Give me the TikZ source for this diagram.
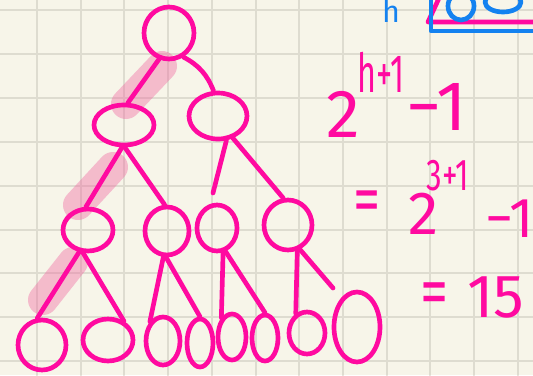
\documentclass[tikz,border=0pt]{standalone}
\usepackage{fontspec}
\setmainfont{Fira Sans}
\usetikzlibrary{shapes.geometric}

\definecolor{paper}{RGB}{247,245,233}
\definecolor{gridgray}{RGB}{222,220,208}
\definecolor{penpink}{RGB}{255,10,160}
\definecolor{penblue}{RGB}{20,130,240}
\definecolor{hilite}{RGB}{240,100,160}

\begin{document}
\begin{tikzpicture}[x=0.3mm, y=-0.3mm, line join=round, line cap=round,
    bub/.style={ellipse, draw=penpink, line width=1.4mm, inner sep=0pt},
    link/.style={draw=penpink, line width=1.4mm},
    glow/.style={draw=hilite, opacity=0.4, line width=9mm},
    hand/.style={text=penpink, inner sep=0pt}]
    \useasboundingbox (0,0) rectangle (533,375);
    \clip (0,0) rectangle (533,375);
    \fill[paper] (0,0) rectangle (533,375);
    \foreach \x in {0,...,11}
        \draw[gridgray, line width=0.6mm] ({37+43.7*\x},0) -- ({37+43.7*\x},375);
    \foreach \y in {0,...,8}
        \draw[gridgray, line width=0.6mm] (0,{10+43.9*\y}) -- (533,{10+43.9*\y});

    % highlighter along the left side
    \coordinate (g1) at (162,66);  \coordinate (g2) at (126,104);
    \coordinate (g3) at (113,167); \coordinate (g4) at (78,205);
    \coordinate (g5) at (73,262);  \coordinate (g6) at (43,300);
    \draw[glow] (g1) -- (g2);
    \draw[glow] (g3) -- (g4);
    \draw[glow] (g5) -- (g6);

    % the tree
    \node[bub, minimum width=15.0mm, minimum height=15.6mm] (root) at (169,33) {};
    \node[bub, minimum width=18.0mm, minimum height=12.0mm] (lft) at (124,125) {};
    \node[bub, minimum width=17.4mm, minimum height=13.8mm] (rgt) at (218,116) {};
    \node[bub, minimum width=15.0mm, minimum height=12.6mm] (na) at (88,230) {};
    \node[bub, minimum width=13.2mm, minimum height=14.4mm] (nb) at (167,231) {};
    \node[bub, minimum width=12.0mm, minimum height=13.8mm] (nc) at (217,228) {};
    \node[bub, minimum width=14.4mm, minimum height=15.0mm] (nd) at (288,225) {};
    \node[bub, minimum width=14.4mm, minimum height=15.0mm] (l1) at (42,345) {};
    \node[bub, minimum width=15.0mm, minimum height=12.6mm] (l2) at (108,340) {};
    \node[bub, minimum width=10.2mm, minimum height=14.4mm] (l3) at (163,341) {};
    \node[bub, minimum width=7.8mm, minimum height=14.4mm] (l4) at (200,343) {};
    \node[bub, minimum width=8.4mm, minimum height=13.8mm] (l5) at (232,337) {};
    \node[bub, minimum width=7.8mm, minimum height=13.8mm] (l6) at (265,338) {};
    \node[bub, minimum width=10.8mm, minimum height=12.6mm] (l7) at (307,333) {};
    \node[bub, minimum width=13.8mm, minimum height=21.0mm] (l8) at (357,327) {};
    \coordinate (cend) at (213,193);
    \coordinate (l8end) at (333,288);

    \draw[link] (root.249) -- (lft.80);
    \draw[link] (root.301) to[bend left=20] (rgt.100);
    \draw[link] (lft.265) -- (na.95);
    \draw[link] (lft.272) -- (nb.95);
    \draw[link] (rgt.289) -- (cend);
    \draw[link] (rgt.304) -- (nd.100);
    \draw[link] (na.248) -- (l1.100);
    \draw[link] (na.258) -- (l2.50);
    \draw[link] (nb.262) -- (l3.124);
    \draw[link] (nb.268) -- (l4.90);
    \draw[link] (nc.284) -- (l5.119);
    \draw[link] (nc.290) -- (l6.90);
    \draw[link] (nd.290) -- (l7.120);
    \draw[link] (nd.296) -- (l8end);

    % formula
    \node[hand, font=\fontsize{58}{60}\selectfont] (two1) at (343,114) {2};
    \node[hand, font=\fontsize{46}{48}\selectfont, xscale=0.6] (exp1) at (381,72) {h+1};
    \node[hand, font=\fontsize{60}{62}\selectfont] (minus1) at (437,107) {−1};
    \node[hand, font=\fontsize{58}{60}\selectfont, xscale=0.8] (eq1) at (367,207) {=};
    \node[hand, font=\fontsize{52}{54}\selectfont] (two2) at (424,214) {2};
    \node[hand, font=\fontsize{38}{40}\selectfont, xscale=0.7] (exp2) at (448,176) {3+1};
    \node[hand, font=\fontsize{48}{50}\selectfont] (minus2) at (510,219) {−1};
    \node[hand, font=\fontsize{60}{62}\selectfont, xscale=0.8] (eq2) at (435,299) {=};
    \node[hand, font=\fontsize{52}{54}\selectfont] (fifteen) at (496,297) {15};

    % cut-off note at the top right
    \node[text=penblue, inner sep=0pt, anchor=base, font=\fontsize{26}{28}\selectfont] (hh) at (391,22) {h};
    \draw[penpink, line width=1.4mm] (440,-4) -- (428,22) -- (540,22);
    \draw[penblue, line width=1.4mm] (431,-5) -- (431,31) -- (540,31);
    \draw[penblue, line width=1.4mm] (461,6) ellipse (13 and 14);
    \draw[penblue, line width=1.4mm] (503,2) ellipse (18 and 10);
\end{tikzpicture}
\end{document}
